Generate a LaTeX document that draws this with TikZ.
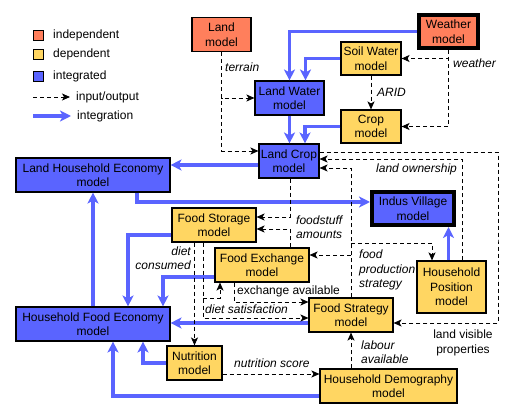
\documentclass[tikz,border=0pt]{standalone}
\usepackage{fontspec}
\setmainfont{Liberation Sans}
\usetikzlibrary{arrows.meta}

\definecolor{indepcol}{RGB}{255,127,92}
\definecolor{depcol}{RGB}{255,214,98}
\definecolor{integcol}{RGB}{90,100,255}

\begin{document}
\begin{tikzpicture}[x=1pt,y=-1pt,
    font=\fontsize{12}{14.5}\selectfont,
    box/.style={draw, line width=1.1pt, align=center, inner sep=0pt, minimum height=34pt},
    indep/.style={box, fill=indepcol},
    dep/.style={box, fill=depcol},
    integ/.style={box, fill=integcol},
    heavy/.style={line width=4pt, minimum height=33pt},
    swatch/.style={minimum width=10pt, minimum height=10pt, line width=0.8pt},
    io/.style={draw, line width=0.9pt, dash pattern=on 4pt off 3pt, -{Stealth[length=8pt,width=7pt,inset=2pt]}},
    link/.style={draw=integcol, line width=3.5pt, -{Stealth[length=11pt,width=11pt,inset=3pt]}},
    lbl/.style={font=\fontsize{12}{14.5}\selectfont\itshape, inner sep=0pt, align=left},
    key/.style={inner sep=0pt, anchor=west}]
  \useasboundingbox (0,0) rectangle (514,419);

  % legend
  \node[indep, swatch] (keyindep) at (38,35) {};
  \node[key] (keyindeptxt) at (53,35) {independent};
  \node[dep, swatch] (keydep) at (38,54) {};
  \node[key] (keydeptxt) at (53,54) {dependent};
  \node[integ, swatch] (keyinteg) at (38,76) {};
  \node[key] (keyintegtxt) at (53,76) {integrated};
  \coordinate (keyio) at (33,97);
  \node[key] (keyiotxt) at (76,97) {input/output};
  \draw[io] (keyio) -- ([xshift=-6pt]keyiotxt.west);
  \coordinate (keylink) at (33,116);
  \node[key] (keylinktxt) at (77,116) {integration};
  \draw[link] (keylink) -- ([xshift=-6pt]keylinktxt.west);

  % models
  \node[indep, minimum width=59pt] (land) at (221.5,34.5) {Land\\model};
  \node[indep, heavy, minimum width=59pt] (weather) at (448.5,31.5) {Weather\\model};
  \node[dep, minimum width=60pt, minimum height=33pt] (soil) at (371,58.5) {Soil Water\\model};
  \node[integ, minimum width=69pt] (landwater) at (289.5,98) {Land Water\\model};
  \node[dep, minimum width=60pt, minimum height=33pt] (crop) at (371,126.5) {Crop\\model};
  \node[integ, minimum width=60pt] (landcrop) at (289,161) {Land Crop\\model};
  \node[integ, minimum width=154pt] (landecon) at (93,175) {Land Household Economy\\model};
  \node[integ, heavy, minimum width=82pt] (indus) at (413,208.5) {Indus Village\\model};
  \node[dep, minimum width=84pt] (storage) at (214,225) {Food Storage\\model};
  \node[dep, minimum width=94pt] (exchange) at (262,265) {Food Exchange\\model};
  \node[dep, minimum width=69pt, minimum height=52pt] (position) at (451.5,287) {Household\\Position\\model};
  \node[dep, minimum width=84pt] (strategy) at (351,315) {Food Strategy\\model};
  \node[integ, minimum width=154pt] (foodecon) at (93,324) {Household Food Economy\\model};
  \node[dep, minimum width=55pt] (nutrition) at (194.5,363) {Nutrition\\model};
  \node[dep, minimum width=137pt] (demography) at (388.5,386) {Household Demography\\model};

  % integration
  \draw[link] (weather.west) -| (landwater.north);
  \draw[link] (soil.west) -| ([xshift=16pt]landwater.north);
  \draw[link] (landwater.south) -- (landwater.south |- landcrop.north);
  \draw[link] (crop.west) -| ([xshift=16pt]landcrop.north);
  \draw[link] ([yshift=-4pt]landcrop.west) -- ([yshift=-4pt]landcrop.west -| landecon.east);
  \draw[link] ([xshift=44pt]landecon.south) |- ([yshift=6.5pt]indus.west);
  \draw[link] ([xshift=-3pt]position.north) -- ([xshift=-3pt]position.north |- indus.south);
  \draw[link] ([yshift=-10pt]storage.west) -| ([xshift=35pt]foodecon.north);
  \draw[link] ([yshift=-12pt]exchange.west) -| ([xshift=70pt]foodecon.north);
  \draw[link] (foodecon.north) -- (landecon.south);
  \draw[link] ([yshift=-8pt]strategy.west) -- ([yshift=-8pt]strategy.west -| foodecon.east);
  \draw[link] (nutrition.west) -| ([xshift=50pt]foodecon.south);
  \draw[link] ([yshift=-10pt]demography.west) -| ([xshift=20pt]foodecon.south);

  % input/output
  \draw[io] (land.south) |- (landwater.west);
  \draw[io] (land.south) |- ([yshift=10pt]landcrop.west);
  \draw[io] (weather.south) |- (soil.east);
  \draw[io] (weather.south) |- (crop.east);
  \draw[io] (soil.south) -- (crop.north);
  \coordinate (visright) at (498,240);
  \draw[io] ([yshift=9pt]landcrop.east) -| (visright) |- ([yshift=-8pt]strategy.east);
  \draw[io] ([xshift=10.5pt]position.north) |- ([yshift=2pt]landcrop.east);
  \draw[io] (strategy.north) |- ([yshift=-7pt]landcrop.east);
  \coordinate (prodfork) at (351,243);
  \coordinate (prodexch) at (351,255);
  \draw[io] (prodfork) -| ([xshift=-19.5pt]position.north);
  \draw[io] (prodexch) -- (prodexch -| exchange.east);
  \draw[io] ([xshift=1pt]landcrop.south) |- ([yshift=8pt]storage.east);
  \draw[io] ([xshift=28pt]exchange.north) |- ([yshift=-4pt]storage.east);
  \draw[io] (nutrition.north |- storage.south) -- (nutrition.north);
  \draw[io] ([xshift=-11pt]storage.south) |- ([yshift=-3pt]strategy.west);
  \coordinate (dietfork) at (203,298);
  \draw[io] (dietfork) -| ([xshift=-42pt]exchange.south);
  \draw[io] ([xshift=-28pt]exchange.south) |- ([yshift=13pt]strategy.west);
  \draw[io] ([yshift=-11pt]nutrition.east) -- ([yshift=-11pt]nutrition.east -| demography.west);
  \draw[io] (strategy.south |- demography.north) -- (strategy.south);

  % labels
  \node[lbl, anchor=west] (terrainlbl) at (225,67) {terrain};
  \node[lbl, anchor=west] (weatherlbl) at (453,63) {weather};
  \node[lbl, anchor=west] (aridlbl) at (377,92) {ARID};
  \node[lbl, anchor=west] (ownerlbl) at (376,169) {land ownership};
  \node[lbl, anchor=west] (stufflbl) at (296,227) {foodstuff\\amounts};
  \node[lbl, anchor=west] (prodlbl) at (359,270) {food\\production\\strategy};
  \node[lbl, anchor=east, align=right] (consumedlbl) at (191,258) {diet\\consumed};
  \node[key] (availlbl) at (237,291) {exchange available};
  \node[lbl, anchor=west] (satislbl) at (205,309) {diet satisfaction};
  \node[lbl, anchor=west] (scorelbl) at (234,363) {nutrition score};
  \node[lbl, anchor=west] (labourlbl) at (361,352) {labour\\available};
  \node[align=center, inner sep=0pt] (visiblelbl) at (463,343) {land visible\\properties};
\end{tikzpicture}
\end{document}
